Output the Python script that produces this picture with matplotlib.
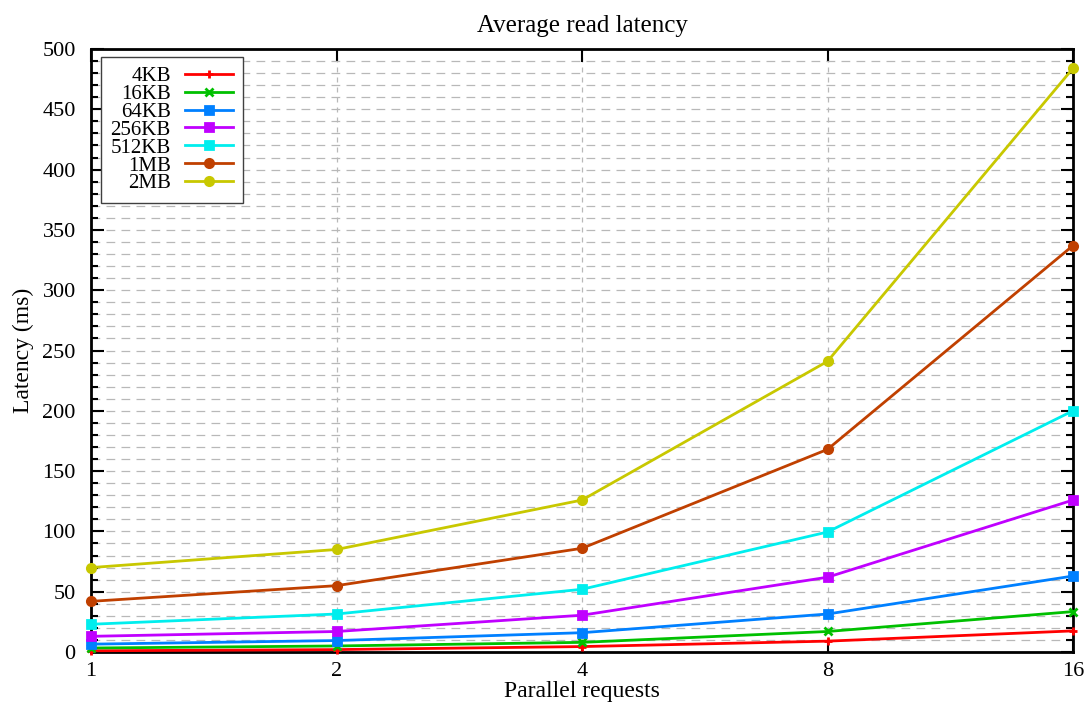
import numpy as np
import matplotlib.pyplot as plt
from matplotlib.ticker import MultipleLocator, FixedLocator, NullFormatter

plt.rcParams['font.family'] = ['Liberation Serif', 'DejaVu Serif']

parallel = [1, 2, 4, 8, 16]
sizes = ['4KB', '16KB', '64KB', '256KB', '512KB', '1MB', '2MB']
lat_4kb = [1, 2, 4.5, 9, 17.5]
lat_16kb = [3.3, 5, 8, 17, 33.5]
lat_64kb = [6.5, 9.5, 16, 31.5, 63]
lat_256kb = [13, 17, 30.5, 62, 126]
lat_512kb = [23, 31.5, 52, 99.5, 200]
lat_1mb = [42, 55, 86, 168, 337]
lat_2mb = [70, 85, 126, 241, 484]

series = [lat_4kb, lat_16kb, lat_64kb, lat_256kb, lat_512kb, lat_1mb, lat_2mb]
colors = ['#ff0000', '#00c000', '#0080ff', '#c000ff', '#00eeee', '#c04000', '#c8c800']
markers = ['+', 'x', 's', 's', 's', 'o', 'o']

fig = plt.figure(figsize=(10.86, 7.03), dpi=100)
ax = fig.add_axes([91 / 1086, 1 - 652 / 703, (1073 - 91) / 1086, (652 - 49) / 703])

for vals, lab, c, m in zip(series, sizes, colors, markers):
    ax.plot(parallel, vals, color=c, marker=m, markersize=6, markeredgewidth=2,
            linewidth=2, label=lab, zorder=3, clip_on=False)

ax.set_xscale('log', base=2)
ax.set_xlim(1, 16)
ax.set_ylim(0, 500)
ax.xaxis.set_major_locator(FixedLocator(parallel))
ax.xaxis.set_minor_locator(FixedLocator([]))
ax.set_xticklabels([str(p) for p in parallel])
ax.xaxis.set_minor_formatter(NullFormatter())
ax.yaxis.set_major_locator(MultipleLocator(50))
ax.yaxis.set_minor_locator(MultipleLocator(10))

ax.tick_params(which='both', direction='in', top=True, right=True, width=1.5,
               labelsize=16)
ax.tick_params(axis='y', pad=11)
ax.tick_params(axis='x', pad=7)
ax.tick_params(which='major', length=9)
ax.tick_params(which='minor', length=5)

ax.grid(which='both', axis='y', color='#b8b8b8', linestyle=(0, (7, 5)), linewidth=0.9, zorder=0)
ax.grid(which='major', axis='x', color='#b8b8b8', linestyle=(0, (4, 4)), linewidth=0.9, zorder=0)
ax.set_axisbelow(True)
for sp in ax.spines.values():
    sp.set_linewidth(2)

ax.set_title('Average read latency', fontsize=18, pad=12)
ax.set_xlabel('Parallel requests', fontsize=17, labelpad=0)
ax.set_ylabel('Latency (ms)', fontsize=17, labelpad=6)

# key box in the top-left corner, labels right-aligned before the samples
leg = ax.legend(loc='upper left', bbox_to_anchor=(10 / 982, 1 - 8 / 603), markerfirst=False,
                fontsize=15, frameon=True, fancybox=False, edgecolor='#404040',
                framealpha=1, borderpad=0.45, labelspacing=-0.08, handlelength=2.3,
                handletextpad=0.7, borderaxespad=0)
leg.get_frame().set_linewidth(1)

fig.savefig('out.png', dpi=100)
